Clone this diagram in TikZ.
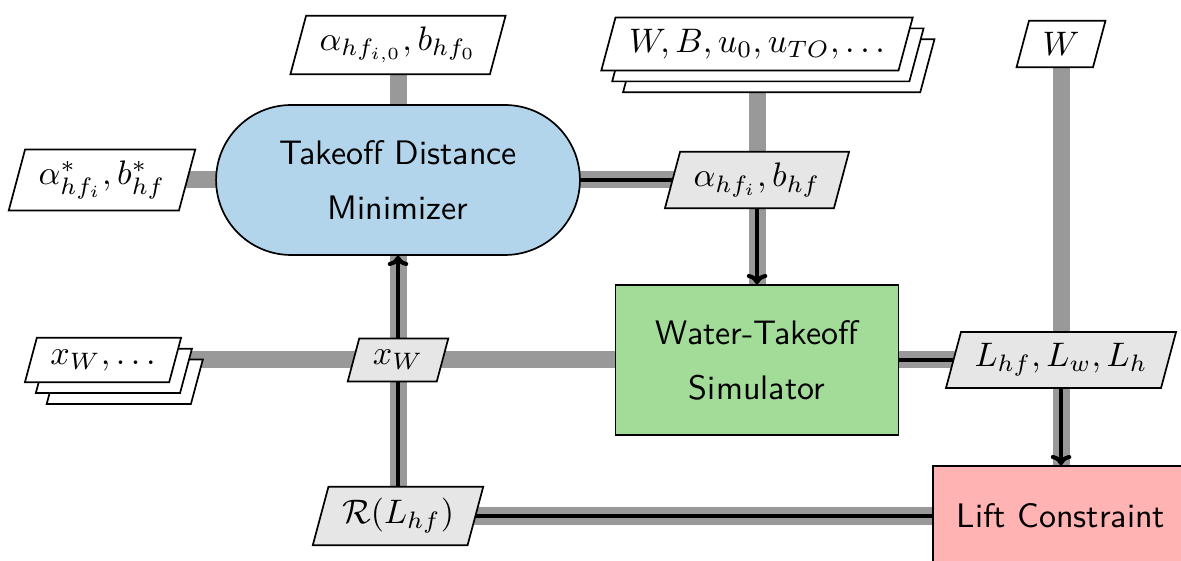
\documentclass[tikz,border=0pt]{standalone}
\usetikzlibrary{shapes.geometric,shapes.misc,shadows,backgrounds,arrows.meta}
\definecolor{optfill}{HTML}{B3D5EB}
\definecolor{simfill}{HTML}{A3DB99}
\definecolor{confill}{HTML}{FFB3B3}
\definecolor{datafill}{HTML}{E6E6E6}
\definecolor{dataline}{HTML}{999999}
\tikzset{
  comp/.style={draw, line width=0.5pt, font=\sffamily, align=center, inner sep=0pt},
  optbox/.style={comp, rounded rectangle, fill=optfill, minimum width=107pt, minimum height=44.1pt},
  simbox/.style={comp, rectangle, fill=simfill, minimum width=83.2pt, minimum height=44.1pt},
  conbox/.style={comp, rectangle, fill=confill, minimum width=75.3pt, minimum height=29.4pt},
  dataio/.style={draw, line width=0.5pt, trapezium, trapezium left angle=75, trapezium right angle=105,
    inner xsep=4pt, inner ysep=3.4pt, fill=white},
  datagray/.style={dataio, fill=datafill},
  stackio/.style={dataio,
    copy shadow={shadow xshift=6.4pt, shadow yshift=-6.4pt, fill=white, draw=black, line width=0.5pt},
    copy shadow={shadow xshift=3.2pt, shadow yshift=-3.2pt, fill=white, draw=black, line width=0.5pt}},
  dline/.style={draw=dataline, line width=5pt},
  pline/.style={draw=black, line width=1.2pt},
  parrow/.style={pline, -{To[length=3pt,width=6pt]}},
}
\begin{document}
\begin{tikzpicture}[x=0.2941pt, y=-0.2941pt]
\useasboundingbox (0,0) rectangle (1181,561);
% components
\node[optbox] (opt) at (398,180) {Takeoff Distance\\[4.2pt]Minimizer};
\node[simbox] (sim) at (757,360) {Water-Takeoff\\[4.2pt]Simulator};
\node[conbox] (lift) at (1061,516) {Lift Constraint};
% data
\node[dataio] (tin) at (398,45) {$\alpha_{hf_{i,0}}, b_{hf_0}$};
\node[dataio] (astar) at (102,180) {$\alpha^*_{hf_i}, b^*_{hf}$};
\node[stackio] (stk) at (757,44) {$W, B, u_0, u_{TO}, \ldots$};
\node[dataio] (wtop) at (1061,44) {$W$};
\node[datagray] (ahf) at (757,180) {$\alpha_{hf_i}, b_{hf}$};
\node[datagray] (lout) at (1061,360) {$L_{hf}, L_w, L_h$};
\node[stackio] (xstk) at (103,360) {$x_W, \ldots$};
\node[datagray] (xw) at (398,360) {$x_W$};
\node[datagray] (rl) at (398,516) {$\mathcal{R}(L_{hf})$};
\begin{pgfonlayer}{background}
  \draw[dline] (tin.center) -- (opt.center);
  \draw[dline] (astar.center) -- (opt.center);
  \draw[dline] (opt.center) -- (ahf.center);
  \draw[dline] (stk.center) -- (ahf.center);
  \draw[dline] (ahf.center) -- (sim.center);
  \draw[dline] (wtop.center) -- (lout.center);
  \draw[dline] (lout.center) -- (lift.center);
  \draw[dline] (sim.center) -- (lout.center);
  \draw[dline] (xstk.center) -- (xw.center);
  \draw[dline] (xw.center) -- (sim.center);
  \draw[dline] (xw.center) -- (opt.center);
  \draw[dline] (rl.center) -- (xw.center);
  \draw[dline] (lift.center) -- (rl.center);
  % process
  \draw[pline] (opt.center) -- (ahf.center);
  \draw[parrow] (ahf.center) -- (sim.north);
  \draw[pline] (sim.center) -- (lout.center);
  \draw[parrow] (lout.center) -- (lift.north);
  \draw[pline] (lift.center) -- (rl.center);
  \draw[pline] (rl.center) -- (xw.center);
  \draw[parrow] (xw.center) -- (opt.south);
\end{pgfonlayer}
\end{tikzpicture}
\end{document}
